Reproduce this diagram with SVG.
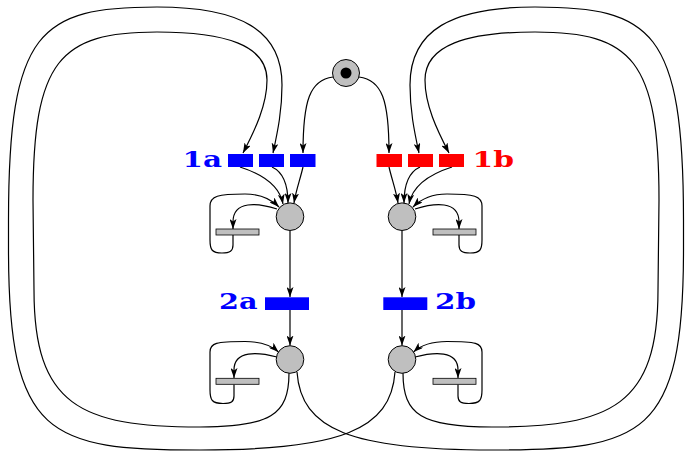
<svg xmlns="http://www.w3.org/2000/svg" width="685" height="453" viewBox="0 0 685 453">
<defs>
<marker id="arr" viewBox="0 0 10 7" refX="10" refY="3.5" markerWidth="10" markerHeight="7" markerUnits="userSpaceOnUse" orient="auto">
<path d="M0,0 L10,3.5 L0,7 L2.5,3.5 z" fill="#000"/>
</marker>
</defs>
<style>
.c{fill:none;stroke:#000;stroke-width:1.2;marker-end:url(#arr)}
.n{fill:none;stroke:#000;stroke-width:1.2}
.pl{fill:#bfbfbf;stroke:#000;stroke-width:1}
.bar{fill:#bfbfbf;stroke:#000;stroke-width:0.8}
.tb{fill:#0000ff}
.tr{fill:#ff0000}
.lb{font-family:"DejaVu Serif",serif;font-weight:bold;font-size:22px}
</style>
<rect width="685" height="453" fill="#fff"/>
<g id="connectors">
<g id="left-connectors">
<path class="c" d="M289,373 C289,415 270,427 200,427 C80,427 34,405 34,290 L33,200 C33,60 60,32 157,32 C225,32 267,45 267,80 C267,105 255,130 243,153"/>
<path class="c" d="M395,372 C391,430 340,450 200,450 C49,450 8.5,437 8.5,250 L8.5,220 C8.5,30 40,7 157,7 C240,7 282,30 282,85 C282,110 278,130 273,153"/>
<path class="c" d="M333,77 C310,80 303,100 303,153"/>
<path class="c" d="M240,167 C265,175 280,188 283,204"/>
<path class="c" d="M272,167 C283,172 288,185 288,203"/>
<path class="c" d="M303,167 C300,180 296,190 294,203"/>
<path class="c" d="M277,209 C258,203 233,200 233,222 L233,229"/>
<path class="c" d="M233,235 V245 C233,251 230,253 222,253 C212,253 210,250 210,240 V206 C210,196 218,194 245,194 C262,194 272,200 279,207"/>
<path class="c" d="M290,231 V297"/>
<path class="c" d="M290,310 V345.5"/>
<path class="c" d="M277,357 C258,352 234,350 234,370 L234,378"/>
<path class="c" d="M234,384.5 V396 C234,402 231,403.5 223,403.5 C212,403.5 210,400 210,390 V352 C210,343 216,341.5 245,341.5 C262,341.5 272,346 278.5,352"/>
</g>
<g id="right-connectors" transform="matrix(-1 0 0 1 692 0)">
<path class="c" d="M289,373 C289,415 270,427 200,427 C80,427 34,405 34,290 L33,200 C33,60 60,32 157,32 C225,32 267,45 267,80 C267,105 255,130 243,153"/>
<path class="c" d="M395,372 C391,430 340,450 200,450 C49,450 8.5,437 8.5,250 L8.5,220 C8.5,30 40,7 157,7 C240,7 282,30 282,85 C282,110 278,130 273,153"/>
<path class="c" d="M333,77 C310,80 303,100 303,153"/>
<path class="c" d="M240,167 C265,175 280,188 283,204"/>
<path class="c" d="M272,167 C283,172 288,185 288,203"/>
<path class="c" d="M303,167 C300,180 296,190 294,203"/>
<path class="c" d="M277,209 C258,203 233,200 233,222 L233,229"/>
<path class="c" d="M233,235 V245 C233,251 230,253 222,253 C212,253 210,250 210,240 V206 C210,196 218,194 245,194 C262,194 272,200 279,207"/>
<path class="c" d="M290,231 V297"/>
<path class="c" d="M290,310 V345.5"/>
<path class="c" d="M277,357 C258,352 234,350 234,370 L234,378"/>
<path class="c" d="M234,384.5 V396 C234,402 231,403.5 223,403.5 C212,403.5 210,400 210,390 V352 C210,343 216,341.5 245,341.5 C262,341.5 272,346 278.5,352"/>
</g>
</g>
<g id="p-start"><circle class="pl" cx="346" cy="73" r="13.5"/><circle cx="346" cy="73" r="5.5" fill="#000"/></g>
<g id="p-a1"><circle class="pl" cx="290" cy="216.7" r="13.8"/></g>
<g id="p-b1"><circle class="pl" cx="402" cy="216.7" r="13.8"/></g>
<g id="p-a2"><circle class="pl" cx="290" cy="359.5" r="13.8"/></g>
<g id="p-b2"><circle class="pl" cx="402" cy="359.5" r="13.8"/></g>
<g id="bar-a1"><rect class="bar" x="216" y="229" width="43" height="6"/></g>
<g id="bar-b1"><rect class="bar" x="433" y="229" width="43" height="6"/></g>
<g id="bar-a2"><rect class="bar" x="216" y="378.3" width="43" height="6"/></g>
<g id="bar-b2"><rect class="bar" x="433" y="378.3" width="43" height="6"/></g>
<g id="t-1a">
<rect class="tb" x="228" y="154" width="25" height="13"/>
<rect class="tb" x="259" y="154" width="25" height="13"/>
<rect class="tb" x="290" y="154" width="25.5" height="13"/>
<text class="lb tb" x="182.5" y="166.7" textLength="39.5" lengthAdjust="spacingAndGlyphs">1a</text>
</g>
<g id="t-1b">
<rect class="tr" x="376.5" y="154" width="25.5" height="13"/>
<rect class="tr" x="408" y="154" width="25" height="13"/>
<rect class="tr" x="439" y="154" width="25" height="13"/>
<text class="lb tr" x="472.5" y="166.7" textLength="41.5" lengthAdjust="spacingAndGlyphs">1b</text>
</g>
<g id="t-2a">
<rect class="tb" x="265" y="297.3" width="44" height="12.7"/>
<text class="lb tb" x="219" y="309.3" textLength="38.5" lengthAdjust="spacingAndGlyphs">2a</text>
</g>
<g id="t-2b">
<rect class="tb" x="383.3" y="297.3" width="44" height="12.7"/>
<text class="lb tb" x="435" y="309.3" textLength="41" lengthAdjust="spacingAndGlyphs">2b</text>
</g>
</svg>
